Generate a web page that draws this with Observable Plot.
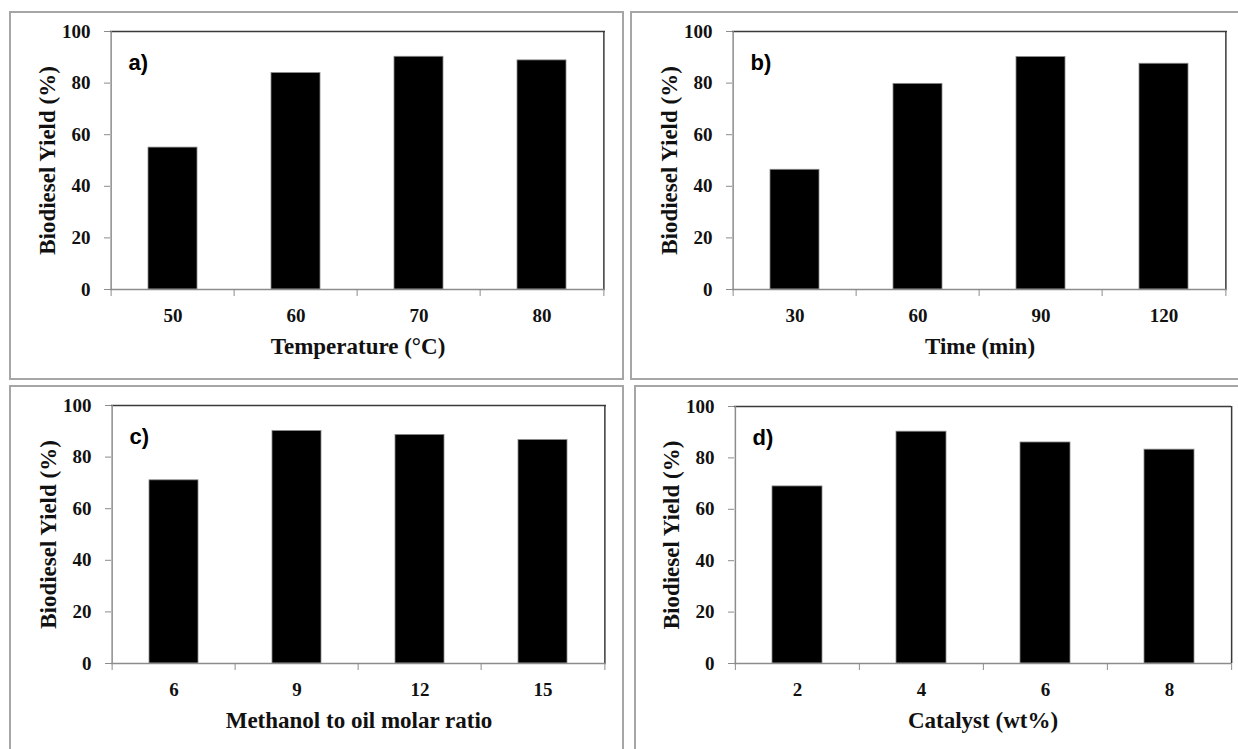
<!DOCTYPE html>
<html>
<head>
<meta charset="utf-8">
<script src="https://cdn.jsdelivr.net/npm/d3@7"></script>
<script src="https://cdn.jsdelivr.net/npm/@observablehq/plot@0.6"></script>
<style>
  html, body { margin: 0; padding: 0; background: #fff; }
  #root { position: relative; width: 1238px; height: 749px; overflow: hidden; background: #fff; }
  .panel { position: absolute; box-sizing: border-box; border: 2px solid #a6a6a6; }
  .plot { position: absolute; }
</style>
</head>
<body>
<div id="root"></div>
<script>
// ---- data ----
const yTicks = [0, 20, 40, 60, 80, 100];
const yTitle = "Biodiesel Yield (%)";

const labelA = "a)";
const catsA = [50, 60, 70, 80];
const yieldA = [55.0, 83.9, 90.2, 88.8];
const titleA = "Temperature (°C)";

const labelB = "b)";
const catsB = [30, 60, 90, 120];
const yieldB = [46.4, 79.7, 90.1, 87.5];
const titleB = "Time (min)";

const labelC = "c)";
const catsC = [6, 9, 12, 15];
const yieldC = [71.0, 90.1, 88.6, 86.6];
const titleC = "Methanol to oil molar ratio";

const labelD = "d)";
const catsD = [2, 4, 6, 8];
const yieldD = [68.9, 90.2, 86.0, 83.2];
const titleD = "Catalyst (wt%)";

// ---- layout (page pixels) ----
const panels = [
  {label: labelA, cats: catsA, vals: yieldA, title: titleA,
   frame: {l: 9, t: 11, r: 624, b: 380}, plot: {l: 110, r: 605, t: 31, b: 289}},
  {label: labelB, cats: catsB, vals: yieldB, title: titleB,
   frame: {l: 630, t: 11, r: 1240, b: 380}, plot: {l: 732, r: 1227, t: 31, b: 289}},
  {label: labelC, cats: catsC, vals: yieldC, title: titleC,
   frame: {l: 9, t: 385, r: 624, b: 755}, plot: {l: 111, r: 606, t: 405, b: 663}},
  {label: labelD, cats: catsD, vals: yieldD, title: titleD,
   frame: {l: 634, t: 385, r: 1242, b: 755}, plot: {l: 734, r: 1231, t: 406, b: 663}}
];

const root = document.getElementById("root");
const serif = "'Times New Roman', 'Liberation Serif', serif";
const sans = "Arial, 'Liberation Sans', sans-serif";

for (const p of panels) {
  const box = document.createElement("div");
  box.className = "panel";
  box.style.left = p.frame.l + "px";
  box.style.top = p.frame.t + "px";
  box.style.width = (p.frame.r - p.frame.l) + "px";
  box.style.height = (p.frame.b - p.frame.t) + "px";
  root.appendChild(box);

  const W = p.frame.r - p.frame.l;
  const H = p.frame.b - p.frame.t;
  const mL = p.plot.l - p.frame.l;
  const mR = p.frame.r - p.plot.r;
  const mT = p.plot.t - p.frame.t;
  const mB = p.frame.b - p.plot.b;
  const step = (p.plot.r - p.plot.l) / p.cats.length;
  const data = p.cats.map((c, i) => ({cat: c, val: p.vals[i]}));
  const last = p.cats[p.cats.length - 1];

  const chart = Plot.plot({
    width: W,
    height: H,
    marginLeft: mL,
    marginRight: mR,
    marginTop: mT,
    marginBottom: mB,
    style: {fontFamily: serif, fontWeight: "bold", fontSize: "19px", color: "#111", background: "transparent", overflow: "visible"},
    x: {type: "band", domain: p.cats, paddingInner: 0.6, paddingOuter: 0.3, axis: null, label: null},
    y: {domain: [0, 100], axis: null, label: null},
    marks: [
      Plot.barY(data, {x: "cat", y: "val", fill: "#000", stroke: "#8a8a8a", strokeWidth: 0.8}),
      // plot border: top/right dark, left/bottom grey axis lines
      Plot.ruleY([100], {stroke: "#3a3a3a", strokeWidth: 1.5}),
      Plot.ruleX([last], {dx: step / 2, stroke: "#3a3a3a", strokeWidth: 1.5}),
      Plot.ruleY([0], {stroke: "#8c8c8c", strokeWidth: 1.5}),
      Plot.ruleX([p.cats[0]], {dx: -step / 2, stroke: "#8c8c8c", strokeWidth: 1.5}),
      // y axis
      Plot.axisY({ticks: yTicks, tickSize: 6, tickPadding: 14, stroke: "#8c8c8c", fill: "#111",
                  fontSize: 19, fontWeight: "bold", fontFamily: serif, label: null}),
      // x tick marks at category boundaries
      Plot.axisX(p.cats, {tickSize: 7, tickFormat: () => "", dx: -step / 2, stroke: "#8c8c8c", label: null}),
      Plot.axisX([last], {tickSize: 7, tickFormat: () => "", dx: step / 2, stroke: "#8c8c8c", label: null}),
      // x tick labels
      Plot.text(p.cats, {x: d => d, frameAnchor: "bottom", dy: 26, lineAnchor: "middle",
                         fontSize: 19, fontWeight: "bold", fontFamily: serif, fill: "#111"}),
      // x title
      Plot.text([p.title], {frameAnchor: "bottom", dy: 57, lineAnchor: "middle",
                            fontSize: 23, fontWeight: "bold", fontFamily: serif, fill: "#111"}),
      // y title
      Plot.text([yTitle], {frameAnchor: "left", dx: -63, rotate: -90, textAnchor: "middle", lineAnchor: "middle",
                           fontSize: 23, fontWeight: "bold", fontFamily: serif, fill: "#111"}),
      // panel label
      Plot.text([p.label], {frameAnchor: "top-left", dx: 18, dy: 31, textAnchor: "start", lineAnchor: "middle",
                            fontSize: 22, fontWeight: "bold", fontFamily: sans, fill: "#000"})
    ]
  });
  chart.classList.add("plot");
  chart.style.left = p.frame.l + "px";
  chart.style.top = p.frame.t + "px";
  chart.style.maxWidth = "none";
  root.appendChild(chart);
}
</script>
</body>
</html>
